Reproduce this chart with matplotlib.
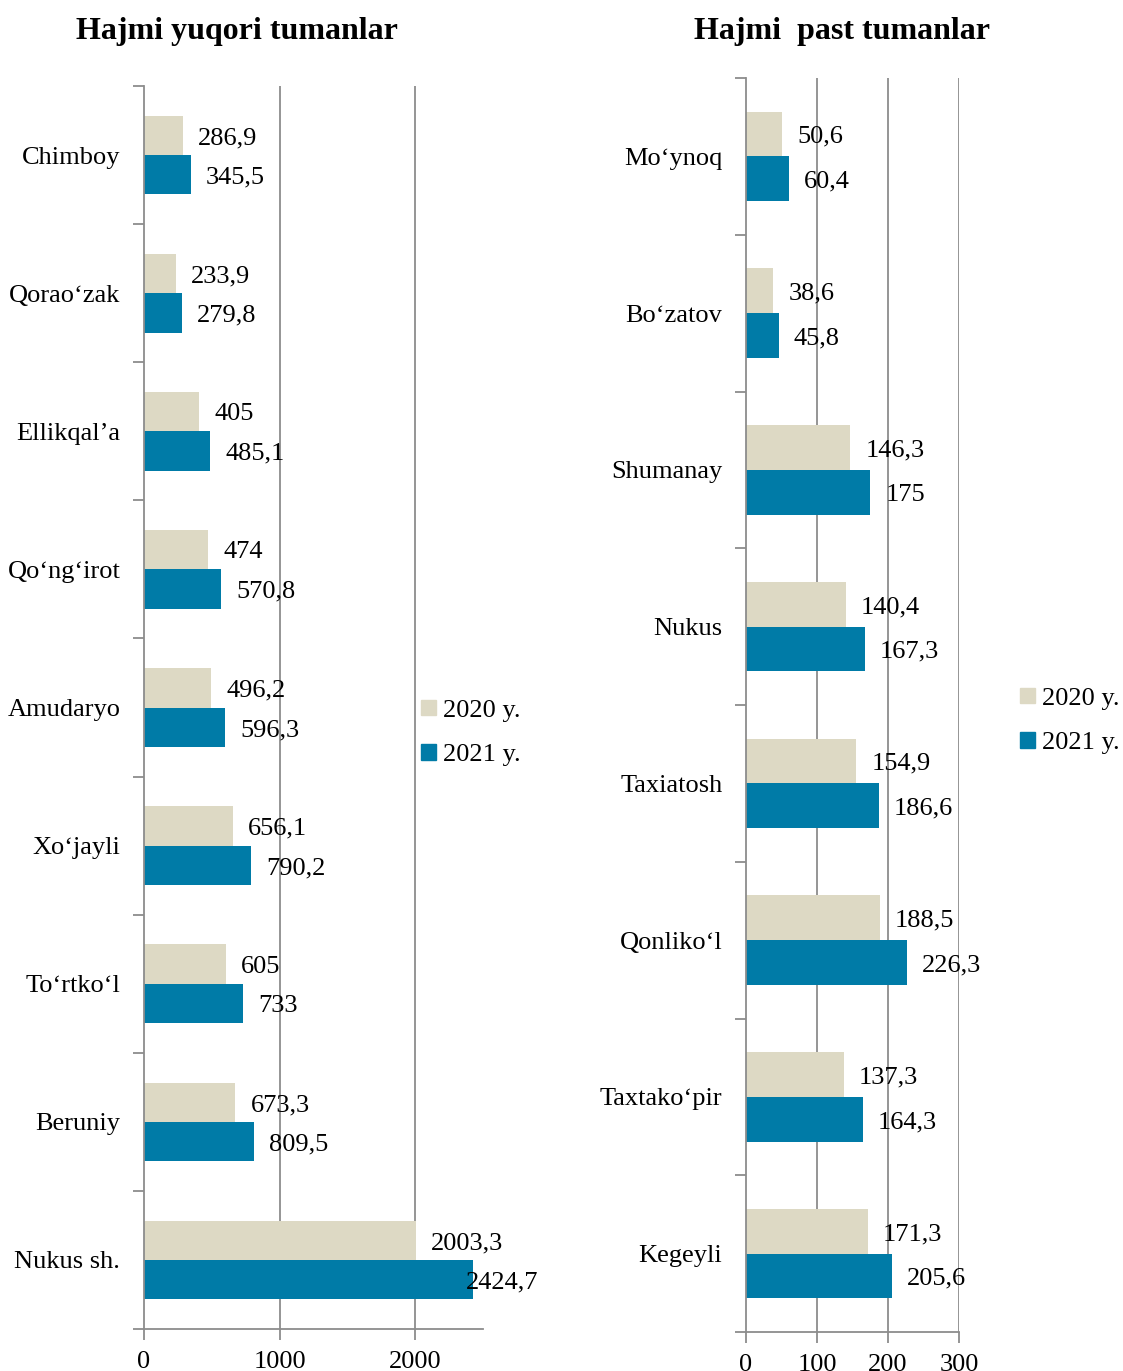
import matplotlib
matplotlib.use('Agg')
import matplotlib.pyplot as plt
import numpy as np
from matplotlib.patches import Patch

plt.rcParams['font.family'] = ['Liberation Serif', 'DejaVu Serif']

# chap grafik - hajmi yuqori tumanlar
top_names = ['Chimboy', 'Qorao‘zak', 'Ellikqal’a', 'Qo‘ng‘irot', 'Amudaryo',
             'Xo‘jayli', 'To‘rtko‘l', 'Beruniy', 'Nukus sh.']
top_2020 = [286.9, 233.9, 405, 474, 496.2, 656.1, 605, 673.3, 2003.3]
top_2021 = [345.5, 279.8, 485.1, 570.8, 596.3, 790.2, 733, 809.5, 2424.7]
top_ticks = [0, 1000, 2000]

# o'ng grafik - hajmi past tumanlar
low_names = ['Mo‘ynoq', 'Bo‘zatov', 'Shumanay', 'Nukus', 'Taxiatosh',
             'Qonliko‘l', 'Taxtako‘pir', 'Kegeyli']
low_2020 = [50.6, 38.6, 146.3, 140.4, 154.9, 188.5, 137.3, 171.3]
low_2021 = [60.4, 45.8, 175, 167.3, 186.6, 226.3, 164.3, 205.6]
low_ticks = [0, 100, 200, 300]

years = ['2020 y.', '2021 y.']
c20 = '#DDD9C4'
c21 = '#007BA7'
gray = '#8C8C8C'


def fmt(v):
    if float(v).is_integer():
        return str(int(v))
    return f'{v:.1f}'.replace('.', ',')


def label(ax, v, y, xmax):
    # excel-dagi kabi: chetga sig'masa ichkariga suriladi
    dx = 11 if v < 0.95 * xmax else -5
    ax.annotate(fmt(v), (v, y), xytext=(dx, -2), textcoords='offset points',
                va='center', ha='left', fontsize=19)


def draw(ax, names, v20, v21, ticks, xmax):
    n = len(names)
    idx = np.arange(n)
    h = 0.285
    ax.barh(idx - h / 2, v20, height=h, color=c20)
    ax.barh(idx + h / 2, v21, height=h, color=c21)
    for i in range(n):
        label(ax, v20[i], i - h / 2, xmax)
        label(ax, v21[i], i + h / 2, xmax)
    ax.set_ylim(n - 0.5, -0.5)
    ax.set_xlim(0, xmax)
    ax.set_yticks(np.arange(n + 1) - 0.5)
    ax.set_yticklabels([])
    ax.set_yticks(idx, minor=True)
    ax.set_yticklabels(names, minor=True, fontsize=19)
    ax.tick_params(axis='y', which='major', length=8, color=gray, width=1.3)
    ax.tick_params(axis='y', which='minor', length=0, pad=17)
    ax.set_xticks(ticks)
    ax.set_xticklabels([str(t) for t in ticks], fontsize=19)
    ax.tick_params(axis='x', length=8, color=gray, width=1.3, pad=8)
    for t in ticks[1:]:
        ax.axvline(t, color=gray, lw=1.3, zorder=0)
    for s in ['top', 'right']:
        ax.spines[s].set_visible(False)
    for s in ['left', 'bottom']:
        ax.spines[s].set_color(gray)
        ax.spines[s].set_linewidth(1.3)


fig = plt.figure(figsize=(11.23, 13.71), dpi=100)
ax1 = fig.add_axes([0.1282, 0.0306, 0.3019, 0.9067])
ax2 = fig.add_axes([0.6643, 0.0284, 0.1897, 0.9147])

draw(ax1, top_names, top_2020, top_2021, top_ticks, 2500)
draw(ax2, low_names, low_2020, low_2021, low_ticks, 300)

fig.text(237 / 1123, 1 - 31 / 1371, 'Hajmi yuqori tumanlar', ha='center', va='center',
         fontsize=23, fontweight='bold')
fig.text(842 / 1123, 1 - 31 / 1371, 'Hajmi  past tumanlar', ha='center', va='center',
         fontsize=23, fontweight='bold')

handles = [Patch(color=c20), Patch(color=c21)]
for xl, yc in [(421, 733), (1020, 721)]:
    fig.legend(handles, years, loc='center left',
               bbox_to_anchor=(xl / 1123, 1 - yc / 1371), frameon=False,
               fontsize=19, handlelength=0.55, handleheight=0.55,
               handletextpad=0.3, labelspacing=0.85, borderpad=0, borderaxespad=0)

fig.savefig('out.png', dpi=100)
